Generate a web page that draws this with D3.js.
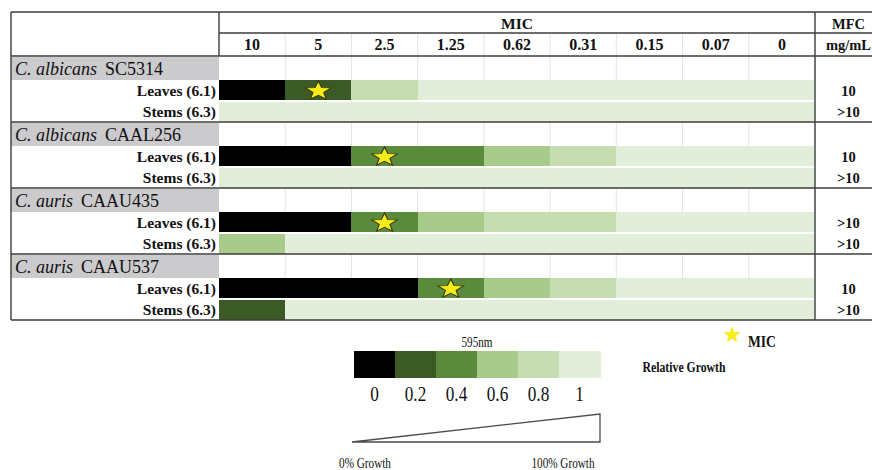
<!DOCTYPE html>
<html>
<head>
<meta charset="utf-8">
<script src="https://cdn.jsdelivr.net/npm/d3@7"></script>
<style>
  html, body { margin: 0; padding: 0; background: #fff; }
  svg { display: block; }
  text { font-family: "Liberation Serif", "Times New Roman", serif; fill: #111; }
</style>
</head>
<body>
<svg id="chart" width="872" height="470"></svg>
<script>
// Concentrations tested (mg/mL), left to right
const concentrations = ["10", "5", "2.5", "1.25", "0.62", "0.31", "0.15", "0.07", "0"];

// Strains
const speciesNames = ["C. albicans", "C. albicans", "C. auris", "C. auris"];
const strainIds = ["SC5314", "CAAL256", "CAAU435", "CAAU537"];
const extracts = ["Leaves (6.1)", "Stems (6.3)"];

// Relative growth (595 nm) per concentration
const leavesGrowth = [
  [0, 0.2, 0.8, 1, 1, 1, 1, 1, 1],
  [0, 0, 0.4, 0.4, 0.6, 0.8, 1, 1, 1],
  [0, 0, 0.4, 0.6, 0.8, 0.8, 1, 1, 1],
  [0, 0, 0, 0.4, 0.6, 0.8, 1, 1, 1]
];
const stemsGrowth = [
  [1, 1, 1, 1, 1, 1, 1, 1, 1],
  [1, 1, 1, 1, 1, 1, 1, 1, 1],
  [0.6, 1, 1, 1, 1, 1, 1, 1, 1],
  [0.2, 1, 1, 1, 1, 1, 1, 1, 1]
];

// MIC of the leaves extract, and MFC values
const leavesMIC = ["5", "2.5", "2.5", "1.25"];
const leavesMFC = ["10", "10", ">10", "10"];
const stemsMFC = [">10", ">10", ">10", ">10"];

// Colour key
const growthSteps = [0, 0.2, 0.4, 0.6, 0.8, 1];
const growthColors = ["#000000", "#3b5a26", "#5a8a3b", "#a8cb8c", "#c6ddb1", "#e2eed9"];

const svg = d3.select("#chart");

// Layout
const tLeft = 11, labelRight = 219, gridRight = 815, tRight = 882, tTop = 12;
const headRow1 = 21, headRow2 = 23;
const bodyTop = tTop + headRow1 + headRow2;   // 56
const groupH = 66, nameH = 24, rowH = 21;

const color = d3.scaleOrdinal().domain(growthSteps).range(growthColors);
const x = d3.scaleBand().domain(concentrations).range([labelRight, gridRight]);
const gy = d3.scaleBand().domain(strainIds).range([bodyTop, bodyTop + groupH * strainIds.length]);
const ry = d3.scaleBand().domain(extracts).range([nameH, nameH + rowH * 2]);

const lineCol = "#3d3d3d";

// Faint column grid in header and strain-name rows
const faint = svg.append("g").attr("stroke", "#e4e4e4").attr("stroke-width", 1);
concentrations.slice(1).forEach(c => {
  faint.append("line").attr("x1", x(c)).attr("x2", x(c))
    .attr("y1", tTop + headRow1).attr("y2", bodyTop);
});
strainIds.forEach(s => {
  [...concentrations.slice(1), "end"].forEach(c => {
    const xx = c === "end" ? gridRight : x(c);
    faint.append("line").attr("x1", xx).attr("x2", xx)
      .attr("y1", gy(s)).attr("y2", gy(s) + nameH);
  });
});

function starPath(r) {
  const pts = [];
  for (let i = 0; i < 10; i++) {
    const a = -Math.PI / 2 + i * Math.PI / 5;
    const rr = i % 2 === 0 ? r : r * 0.42;
    pts.push([rr * Math.cos(a), rr * Math.sin(a)]);
  }
  return d3.line()(pts) + "Z";
}

// Strain groups
strainIds.forEach((s, gi) => {
  const g = svg.append("g").attr("transform", `translate(0,${gy(s)})`);

  // grey name band
  g.append("rect").attr("x", tLeft).attr("y", 1)
    .attr("width", labelRight - tLeft).attr("height", nameH - 1)
    .attr("fill", "#cbcacd");

  const name = g.append("text").attr("x", tLeft + 4).attr("y", nameH - 5)
    .attr("font-size", 18).attr("fill", "#1a1a1a");
  name.append("tspan").attr("font-style", "italic").text(speciesNames[gi]);
  name.append("tspan").attr("dx", 8).text(strainIds[gi]);

  const rowsData = [leavesGrowth[gi], stemsGrowth[gi]];
  const mfc = [leavesMFC[gi], stemsMFC[gi]];

  extracts.forEach((e, ri) => {
    const y0 = ry(e);
    g.append("g").attr("shape-rendering", "crispEdges")
      .selectAll("rect").data(rowsData[ri]).join("rect")
      .attr("x", (d, i) => x(concentrations[i]))
      .attr("y", y0 + (ri === 0 ? 0 : 1))
      .attr("width", (d, i) => i === concentrations.length - 1 ? x.bandwidth() : x.bandwidth() + 1)
      .attr("height", rowH - 1)
      .attr("fill", d => color(d));

    g.append("text").attr("x", labelRight - 3).attr("y", y0 + rowH / 2 + 5.5)
      .attr("text-anchor", "end").attr("font-weight", "bold").attr("font-size", 15.5)
      .text(e);

    g.append("text").attr("x", (gridRight + tRight) / 2).attr("y", y0 + rowH / 2 + 5.5)
      .attr("text-anchor", "middle").attr("font-weight", "bold").attr("font-size", 14.5)
      .text(mfc[ri]);
  });

  // MIC star on the leaves row
  const cx = x(leavesMIC[gi]) + x.bandwidth() / 2;
  const cy = ry(extracts[0]) + rowH / 2 + 0.5;
  g.append("path")
    .attr("d", starPath(10))
    .attr("transform", `translate(${cx},${cy}) scale(1.35,1)`)
    .attr("fill", "#f7ec17").attr("stroke", "#3a3a10").attr("stroke-width", 0.9);
});

// Header text
const midGrid = (labelRight + gridRight) / 2;
svg.append("text").attr("x", midGrid).attr("y", tTop + 16.5)
  .attr("text-anchor", "middle").attr("font-weight", "bold").attr("font-size", 15.5).text("MIC");
svg.append("g").selectAll("text").data(concentrations).join("text")
  .attr("x", d => x(d) + x.bandwidth() / 2).attr("y", tTop + headRow1 + 17)
  .attr("text-anchor", "middle").attr("font-weight", "bold").attr("font-size", 16)
  .text(d => d);
svg.append("text").attr("x", (gridRight + tRight) / 2).attr("y", tTop + 16.5)
  .attr("text-anchor", "middle").attr("font-weight", "bold").attr("font-size", 14.5).text("MFC");
svg.append("text").attr("x", (gridRight + tRight) / 2).attr("y", tTop + headRow1 + 17)
  .attr("text-anchor", "middle").attr("font-weight", "bold").attr("font-size", 14.5).text("mg/mL");

// Table rules
const tBottom = bodyTop + groupH * strainIds.length;
const rules = svg.append("g").attr("stroke", lineCol).attr("stroke-width", 1.4).attr("fill", "none");
rules.append("line").attr("x1", tLeft).attr("x2", tRight).attr("y1", tTop).attr("y2", tTop);
rules.append("line").attr("x1", labelRight).attr("x2", tRight).attr("y1", tTop + headRow1).attr("y2", tTop + headRow1);
rules.append("line").attr("x1", tLeft).attr("x2", tRight).attr("y1", bodyTop).attr("y2", bodyTop);
strainIds.slice(1).forEach(s => {
  rules.append("line").attr("x1", tLeft).attr("x2", tRight).attr("y1", gy(s)).attr("y2", gy(s));
});
rules.append("line").attr("x1", tLeft).attr("x2", tRight).attr("y1", tBottom).attr("y2", tBottom);
rules.append("line").attr("x1", tLeft).attr("x2", tLeft).attr("y1", tTop).attr("y2", tBottom);
rules.append("line").attr("x1", labelRight).attr("x2", labelRight).attr("y1", tTop).attr("y2", bodyTop);
rules.append("line").attr("x1", gridRight).attr("x2", gridRight).attr("y1", tTop).attr("y2", tBottom);

// Colour key
const key = svg.append("g");
const kx = d3.scaleBand().domain(growthSteps).range([354, 600]);
const keyTop = 351, keyH = 27;

function narrowText(sel, cxPos, yPos, sx) {
  sel.attr("transform", `translate(${cxPos},${yPos}) scale(${sx},1)`).attr("x", 0).attr("y", 0);
  return sel;
}

narrowText(key.append("text").attr("text-anchor", "middle").attr("font-size", 14)
  .attr("fill", "#333").text("595nm"), 477, 347, 0.8);

key.append("g").attr("shape-rendering", "crispEdges")
  .selectAll("rect").data(growthSteps).join("rect")
  .attr("x", d => kx(d)).attr("y", keyTop)
  .attr("width", kx.bandwidth() + 0.5).attr("height", keyH)
  .attr("fill", d => color(d));

key.selectAll("text.tick").data(growthSteps).join("text").attr("class", "tick")
  .attr("text-anchor", "middle").attr("font-size", 21).attr("fill", "#222")
  .each(function (d) {
    narrowText(d3.select(this), kx(d) + kx.bandwidth() / 2, 401, 0.82);
  })
  .text(d => d);

// Growth wedge
const wedge = d3.scaleLinear().domain([0, 1]).range([352, 600]);
key.append("path")
  .attr("d", d3.line()([[wedge(0), 442], [wedge(1), 414], [wedge(1), 442]]) + "Z")
  .attr("fill", "none").attr("stroke", "#4a4a4a").attr("stroke-width", 1.3);

narrowText(key.append("text").attr("text-anchor", "middle").attr("font-size", 14)
  .attr("fill", "#333").text("0% Growth"), 365, 468, 0.8);
narrowText(key.append("text").attr("text-anchor", "middle").attr("font-size", 14)
  .attr("fill", "#333").text("100% Growth"), 563, 468, 0.8);

narrowText(key.append("text").attr("text-anchor", "middle").attr("font-size", 15.5)
  .attr("font-weight", "bold").text("Relative Growth"), 684, 372, 0.76);

// MIC marker legend
key.append("path").attr("d", starPath(9))
  .attr("transform", "translate(732,335)").attr("fill", "#f8ec1e");
narrowText(key.append("text").attr("text-anchor", "start").attr("font-size", 17)
  .attr("font-weight", "bold").text("MIC"), 748, 347, 0.8);
</script>
</body>
</html>
